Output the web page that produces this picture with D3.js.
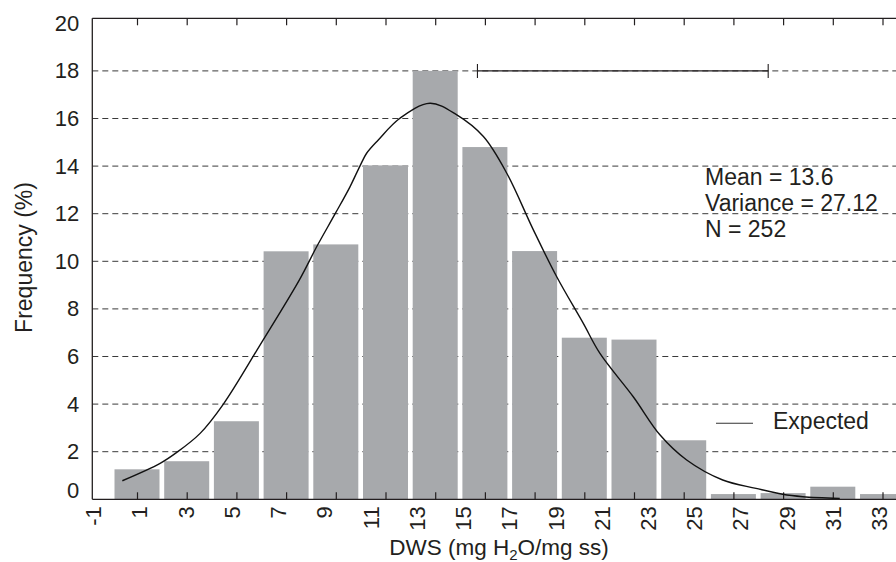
<!DOCTYPE html>
<html>
<head>
<meta charset="utf-8">
<script src="https://cdn.jsdelivr.net/npm/d3@7"></script>
<style>
    body { margin: 0; background: #fff; }
    svg text { font-family: "Liberation Sans", Arial, Helvetica, sans-serif; fill: #231f20; }
</style>
</head>
<body>
<svg id="chart" width="896" height="562"></svg>
<script>
// bins (centre of each 2-unit class) and observed frequency (%)
var binCenters = [1, 3, 5, 7, 9, 11, 13, 15, 17, 19, 21, 23, 25, 27, 29, 31];
var frequency = [1.26, 1.6, 3.28, 10.42, 10.71, 14.03, 18.0, 14.8, 10.43, 6.79, 6.71, 2.48, 0.22, 0.26, 0.53, 0.22];

// tick labels printed under the axis
var xLabels = [-1, 1, 3, 5, 7, 9, 11, 13, 15, 17, 19, 21, 23, 25, 27, 29, 31, 33];
var yTicks = [0, 2, 4, 6, 8, 10, 12, 14, 16, 18, 20];

// expected curve (same units as the bins)
var expectedX = [0.41, 1.93, 2.6, 3.54, 4.47, 5.95, 7.53, 8.23, 8.97, 9.57, 9.97, 10.24, 10.71, 11.58, 12.79,
    13.87, 14.94, 15.88, 16.95, 17.89, 18.96, 19.63, 20.97, 22.05, 23.12, 24.57, 25.91, 26.98, 27.79, 29.28];
var expectedY = [0.78, 1.51, 1.97, 2.77, 3.99, 6.48, 9.21, 10.61, 11.99, 13.13, 14.0, 14.54, 15.1, 16.01, 16.64,
    16.15, 15.24, 13.7, 11.32, 9.35, 7.39, 6.13, 4.31, 2.7, 1.65, 0.81, 0.46, 0.21, 0.11, 0.04];

// range bar drawn at the top
var rangeBar = [14.7, 26.4];
var rangeBarY = 18;

var statsLines = ["Mean = 13.6", "Variance = 27.12", "N = 252"];
var legendLabel = "Expected";
var xTitle = "DWS (mg H";
var yTitle = "Frequency (%)";

var svg = d3.select("#chart");
var frameLeft = 92.3, frameRight = 905, frameTop = 18.3, frameBottom = 499.3;

var y = d3.scaleLinear().domain([0, 20]).range([frameBottom, 23.3]);
// bars and axis ticks
var xBin = d3.scaleLinear().domain([1, 31]).range([137, 882.5]);
// printed labels use their own spacing
var xLab = d3.scaleLinear().domain([-1, 33]).range([93, 879]);

//gridlines
svg.append("g")
    .selectAll("line")
    .data(yTicks.filter(function (d) { return d > 0 && d < 20; }))
    .enter().append("line")
    .attr("x1", frameLeft)
    .attr("x2", frameRight)
    .attr("y1", function (d) { return y(d); })
    .attr("y2", function (d) { return y(d); })
    .style("stroke", "#3a3a3a")
    .style("stroke-width", 1)
    .style("stroke-dasharray", "6,4");

//bars
var barInset = 2.35;
svg.append("g")
    .selectAll("rect")
    .data(binCenters)
    .enter().append("rect")
    .attr("x", function (d) { return xBin(d - 1) + barInset; })
    .attr("width", function (d) { return xBin(d + 1) - xBin(d - 1) - 2 * barInset; })
    .attr("y", function (d, i) { return y(frequency[i]); })
    .attr("height", function (d, i) { return frameBottom - y(frequency[i]); })
    .style("fill", "#a7a9ac");

//frame
var frame = svg.append("g").style("stroke", "#231f20").style("stroke-width", 1.3);
frame.append("line").attr("x1", frameLeft).attr("x2", frameLeft).attr("y1", frameTop).attr("y2", frameBottom);
frame.append("line").attr("x1", frameLeft).attr("x2", frameRight).attr("y1", frameBottom).attr("y2", frameBottom);
frame.append("line").attr("x1", frameLeft).attr("x2", frameRight).attr("y1", frameTop).attr("y2", frameTop);

//tick marks, bottom (pointing up) and top (pointing down)
var bottomTicks = svg.append("g")
    .attr("transform", "translate(0," + frameBottom + ")")
    .call(d3.axisBottom(xBin).tickValues(binCenters).tickSize(-7).tickFormat(""));
var topTicks = svg.append("g")
    .attr("transform", "translate(0," + frameTop + ")")
    .call(d3.axisTop(xBin).tickValues(binCenters).tickSize(-7).tickFormat(""));
[bottomTicks, topTicks].forEach(function (g) {
    g.select(".domain").remove();
    g.selectAll(".tick line").style("stroke", "#231f20").style("stroke-width", 1.2);
});

//x labels, rotated
var xLabelAxis = svg.append("g")
    .attr("transform", "translate(0," + frameBottom + ")")
    .call(d3.axisBottom(xLab).tickValues(xLabels).tickSize(0).tickFormat(function (d) { return String(d); }));
xLabelAxis.select(".domain").remove();
xLabelAxis.selectAll("text")
    .attr("transform", "rotate(-90)")
    .attr("text-anchor", "end")
    .attr("x", -7)
    .attr("y", 0)
    .attr("dy", "0.35em")
    .style("font-size", "22px")
    .style("font-family", "\"Liberation Sans\", Arial, sans-serif")
    .style("fill", "#231f20");

//y labels
var yAxis = svg.append("g")
    .attr("transform", "translate(" + frameLeft + ",0)")
    .call(d3.axisLeft(y).tickValues(yTicks).tickSize(0).tickPadding(13));
yAxis.select(".domain").remove();
yAxis.selectAll("text")
    .style("font-size", "22px")
    .style("font-family", "\"Liberation Sans\", Arial, sans-serif")
    .style("fill", "#231f20")
    .attr("y", function (d) { return d == 0 ? -9 : 0; });

//expected curve
var expected = expectedX.map(function (v, i) { return [v, expectedY[i]]; });
var line = d3.line()
    .x(function (d) { return xBin(d[0]); })
    .y(function (d) { return y(d[1]); })
    .curve(d3.curveCatmullRom);
svg.append("path")
    .datum(expected)
    .attr("d", line)
    .style("fill", "none")
    .style("stroke", "#111")
    .style("stroke-width", 1.4);

//range bar
var rb = svg.append("g").style("stroke", "#231f20").style("stroke-width", 1.1);
rb.append("line")
    .attr("x1", xBin(rangeBar[0])).attr("x2", xBin(rangeBar[1]))
    .attr("y1", y(rangeBarY)).attr("y2", y(rangeBarY));
rb.selectAll("line.cap")
    .data(rangeBar)
    .enter().append("line")
    .classed("cap", true)
    .attr("x1", function (d) { return xBin(d); })
    .attr("x2", function (d) { return xBin(d); })
    .attr("y1", y(rangeBarY) - 7)
    .attr("y2", y(rangeBarY) + 7);

//stats text
svg.append("g")
    .selectAll("text")
    .data(statsLines)
    .enter().append("text")
    .attr("x", 705)
    .attr("y", function (d, i) { return 185 + i * 26.2; })
    .style("font-size", "23px")
    .text(function (d) { return d; });

//legend
svg.append("line")
    .attr("x1", 716).attr("x2", 753)
    .attr("y1", 423.3).attr("y2", 423.3)
    .style("stroke", "#333")
    .style("stroke-width", 1.1);
svg.append("text")
    .attr("x", 773)
    .attr("y", 429)
    .style("font-size", "23px")
    .text(legendLabel);

//axis titles
var xt = svg.append("text")
    .attr("x", 499)
    .attr("y", 554.5)
    .attr("text-anchor", "middle")
    .style("font-size", "22.5px");
xt.append("tspan").text(xTitle);
xt.append("tspan").attr("dy", 5).style("font-size", "15px").text("2");
xt.append("tspan").attr("dy", -5).text("O/mg ss)");

svg.append("text")
    .attr("transform", "translate(32,257.5) rotate(-90)")
    .attr("text-anchor", "middle")
    .style("font-size", "23px")
    .text(yTitle);
</script>
</body>
</html>
